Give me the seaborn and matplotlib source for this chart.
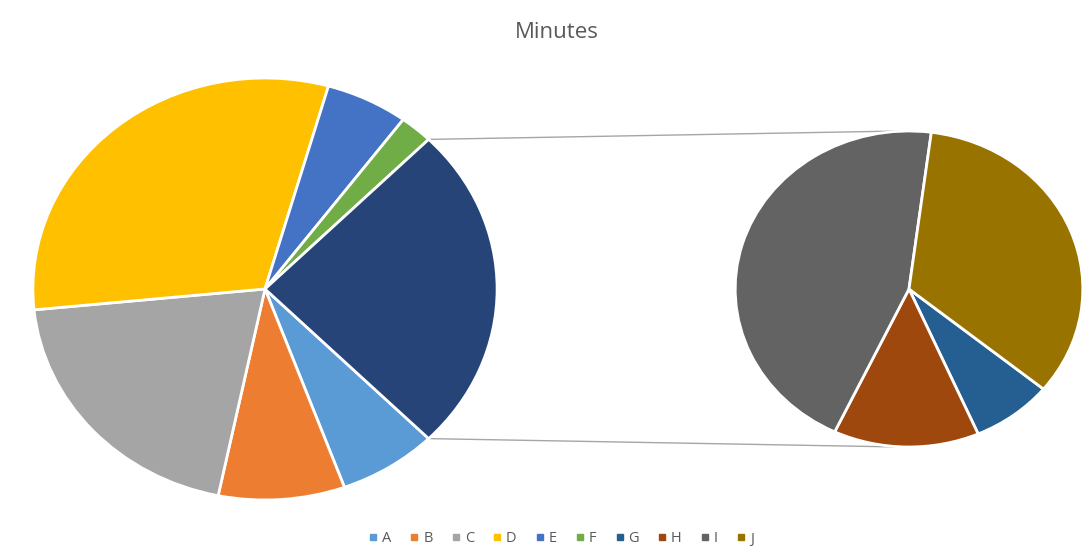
import matplotlib
matplotlib.use("Agg")
import matplotlib.pyplot as plt
from matplotlib.lines import Line2D
import numpy as np
import seaborn as sns

# slice values (minutes)
main_labels = ["A", "B", "C", "D", "E", "F"]
main_values = [6.9, 8.8, 20.2, 31.0, 5.75, 2.3]
other_labels = ["G", "H", "I", "J"]
other_values = [1.9, 3.4, 11.3, 8.5]

colors = {
    "A": "#5B9BD5", "B": "#ED7D31", "C": "#A5A5A5", "D": "#FFC000",
    "E": "#4472C4", "F": "#70AD47", "G": "#255E91", "H": "#9E480E",
    "I": "#636363", "J": "#997300",
}
other_color = "#264478"

sns.set_theme(style="white")
plt.rcParams['font.family'] = ['Open Sans', 'DejaVu Sans']
text_color = "#595959"

W, H = 1083, 549
SX = 1.1  # horizontal stretch of the original picture
fig = plt.figure(figsize=(W / 100, H / 100), dpi=100)
ax = fig.add_axes([0, 0, 1, 1])

# main pie: A..F plus the "other" slice (sum of G..J), other centred at 3 o'clock
other_total = sum(other_values)
vals1 = main_values + [other_total]
total1 = sum(vals1)
other_deg = other_total / total1 * 360
cols1 = [colors[k] for k in main_labels] + [other_color]
c1 = (265 / SX, H - 289)
r1 = 211
ax.pie(vals1, colors=cols1, startangle=-other_deg / 2, counterclock=False,
       center=c1, radius=r1, frame=True,
       wedgeprops=dict(edgecolor="white", linewidth=2))

# secondary pie: G..J
c2 = (909 / SX, H - 289)
r2 = 158
ax.pie(other_values, colors=[colors[k] for k in other_labels], startangle=-39.3,
       counterclock=False, center=c2, radius=r2, frame=True,
       wedgeprops=dict(edgecolor="white", linewidth=2))

# connector lines from the edges of the "other" slice to the second pie
for sgn in (1, -1):
    th = np.deg2rad(90 - sgn * other_deg / 2)
    x0 = c1[0] + r1 * np.sin(th)
    y0 = c1[1] + r1 * np.cos(th)
    ax.plot([x0, c2[0] - 8], [y0, c2[1] + sgn * r2], color="#A6A6A6", lw=1, zorder=0)

ax.set_aspect("auto")
ax.set_xlim(0, W / SX)
ax.set_ylim(0, H)
ax.axis("off")

fig.text(0.514, 1 - 33 / H, "Minutes", ha="center", va="center",
         fontsize=16, color=text_color)

handles = [Line2D([], [], marker="s", linestyle="none", markersize=5,
                  markerfacecolor=colors[k], markeredgecolor=colors[k])
           for k in main_labels + other_labels]
fig.legend(handles, main_labels + other_labels, loc="center",
           bbox_to_anchor=(0.517, 1 - 539 / H), ncol=10, frameon=False,
           fontsize=10.5, labelcolor=text_color, handletextpad=0.1,
           columnspacing=1.1, handlelength=1.0)

fig.savefig("out.png", dpi=100, facecolor="white")
